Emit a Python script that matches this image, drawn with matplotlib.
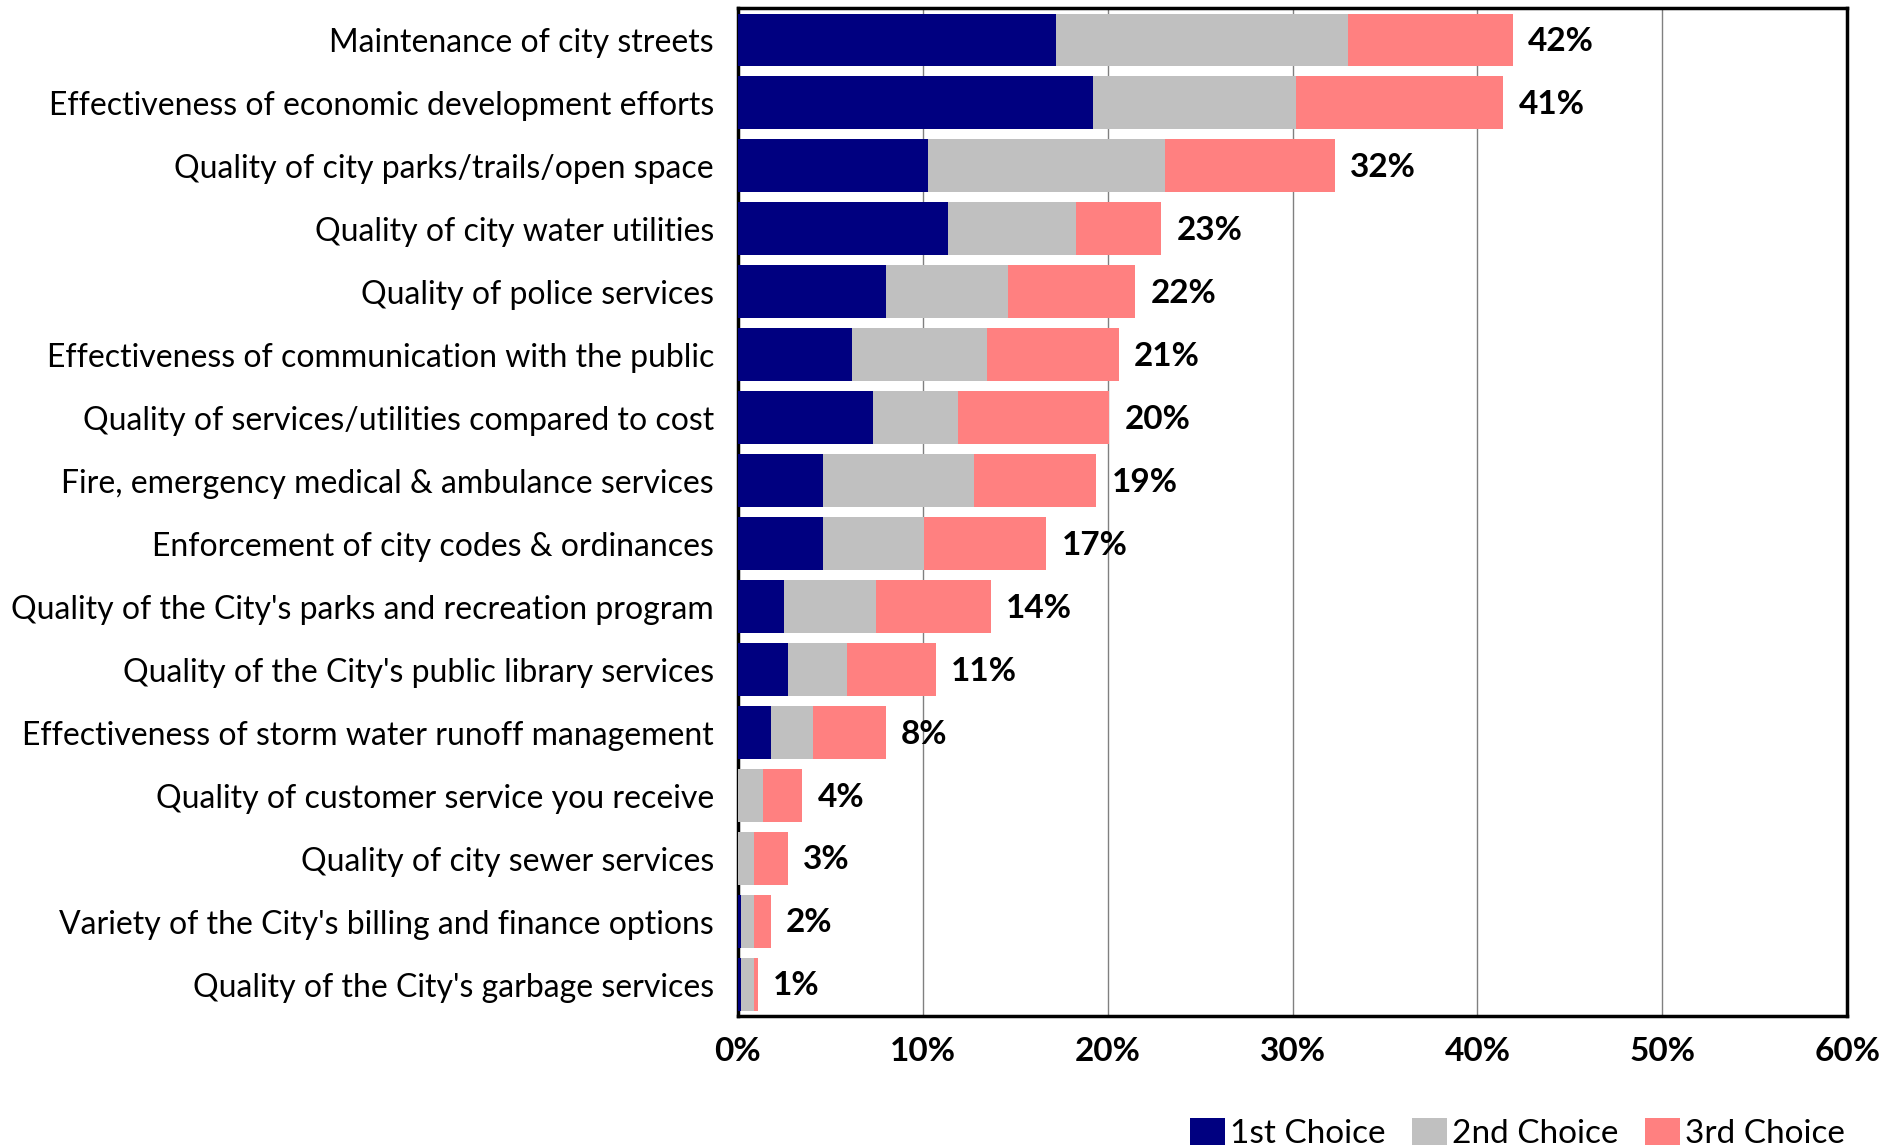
import matplotlib.pyplot as plt
import numpy as np

plt.rcParams['font.family'] = ['Lato', 'DejaVu Sans']

# survey items, top to bottom
items = [
    "Maintenance of city streets",
    "Effectiveness of economic development efforts",
    "Quality of city parks/trails/open space",
    "Quality of city water utilities",
    "Quality of police services",
    "Effectiveness of communication with the public",
    "Quality of services/utilities compared to cost",
    "Fire, emergency medical & ambulance services",
    "Enforcement of city codes & ordinances",
    "Quality of the City's parks and recreation program",
    "Quality of the City's public library services",
    "Effectiveness of storm water runoff management",
    "Quality of customer service you receive",
    "Quality of city sewer services",
    "Variety of the City's billing and finance options",
    "Quality of the City's garbage services",
]

first = [17.2, 19.2, 10.3, 11.4, 8.0, 6.2, 7.3, 4.6, 4.6, 2.5, 2.7, 1.8, 0.0, 0.0, 0.2, 0.2]
second = [15.8, 11.0, 12.8, 6.9, 6.6, 7.3, 4.6, 8.2, 5.5, 5.0, 3.2, 2.3, 1.4, 0.9, 0.7, 0.7]
third = [8.9, 11.2, 9.2, 4.6, 6.9, 7.1, 8.2, 6.6, 6.6, 6.2, 4.8, 3.9, 2.1, 1.8, 0.9, 0.2]
totals = ["42%", "41%", "32%", "23%", "22%", "21%", "20%", "19%", "17%", "14%", "11%", "8%", "4%", "3%", "2%", "1%"]

series_names = ["1st Choice", "2nd Choice", "3rd Choice"]
colors = ["#000080", "#C0C0C0", "#FF8080"]

fig = plt.figure(figsize=(19.02, 11.47), dpi=100)
ax = fig.add_axes([0.3878, 0.1142, 0.9713 - 0.3878, 0.9926 - 0.1142])

y = np.arange(len(items))
a = np.array(first)
b = np.array(second)
c = np.array(third)

ax.barh(y, a, height=0.84, color=colors[0], label=series_names[0], zorder=3)
ax.barh(y, b, left=a, height=0.84, color=colors[1], label=series_names[1], zorder=3)
ax.barh(y, c, left=a + b, height=0.84, color=colors[2], label=series_names[2], zorder=3)

# total labels at the bar ends
for i, t in enumerate(totals):
    ax.annotate(t, (a[i] + b[i] + c[i], i), xytext=(11, -1), textcoords="offset points",
                va="center", ha="left", fontsize=24, fontweight="bold")

ax.set_xlim(0, 60)
ax.set_ylim(len(items) - 0.5, -0.5)
ax.set_xticks(range(0, 61, 10))
ax.set_xticklabels([f"{v}%" for v in range(0, 61, 10)], fontsize=24, fontweight="bold")
ax.set_yticks(y)
ax.set_yticklabels(items, fontsize=23)
ax.tick_params(axis="y", length=0, pad=17)
ax.tick_params(axis="x", length=0, pad=15)

ax.grid(axis="x", color="#808080", linewidth=1.0, zorder=0)
for s in ax.spines.values():
    s.set_linewidth(2.5)
    s.set_color("black")

leg = fig.legend(loc="lower right", bbox_to_anchor=(0.986, -0.028), ncol=3, frameon=False,
                 fontsize=24, handlelength=1.05, handleheight=0.9, handletextpad=0.15,
                 columnspacing=0.8)

fig.savefig("out.png", dpi=100)
